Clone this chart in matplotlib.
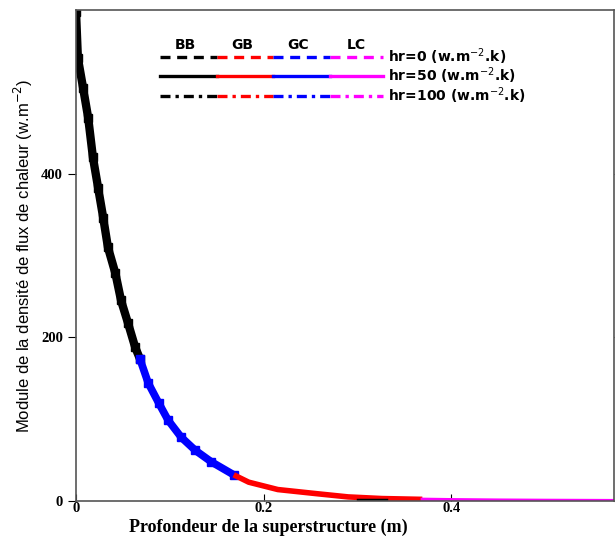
import matplotlib.pyplot as plt

# flux density, split by layer colour
bb_x = [0.000, 0.002, 0.0075, 0.013, 0.018, 0.0235, 0.029, 0.034, 0.042, 0.048, 0.0555, 0.063, 0.068]
bb_y = [598, 541, 505, 468, 420, 383, 346, 310, 278, 245, 217, 188, 174]
gc_x = [0.068, 0.077, 0.088, 0.098, 0.112, 0.127, 0.144, 0.168]
gc_y = [174, 144, 120, 99, 78, 62, 48, 32]
gb_x = [0.168, 0.184, 0.215, 0.256, 0.290, 0.326, 0.369]
gb_y = [32, 23, 14, 9, 5, 3, 2]
lc_x = [0.369, 0.40, 0.45, 0.50, 0.55, 0.573]
lc_y = [2, 1.5, 1.0, 0.7, 0.5, 0.4]
bb2_x = [0.300, 0.330]
bb2_y = [1.5, 1.5]

layers = ['BB', 'GB', 'GC', 'LC']
layer_colors = ['black', 'red', 'blue', 'magenta']
hr_labels = ['hr=0 (w.m$^{-2}$.k)', 'hr=50 (w.m$^{-2}$.k)', 'hr=100 (w.m$^{-2}$.k)']
hr_styles = [(0, (3, 2)), '-', (0, (3, 1.5, 1, 1.5))]

fig = plt.figure(figsize=(6.15, 5.39), dpi=100)
ax = fig.add_axes([0.1236, 0.0705, 0.8744, 0.911])

ax.plot(bb_x, bb_y, color='black', lw=6, marker='s', ms=6, solid_capstyle='butt')
ax.plot(gc_x, gc_y, color='blue', lw=5.5, marker='s', ms=5.5, solid_capstyle='butt')
ax.plot(gb_x, gb_y, color='red', lw=4, solid_capstyle='butt')
ax.plot(bb2_x, bb2_y, color='black', lw=2.5)
ax.plot(lc_x, lc_y, color='magenta', lw=2.5)

ax.set_xlim(0, 0.573)
ax.set_ylim(0, 600)
ax.set_xticks([0, 0.2, 0.4])
ax.set_xticklabels(['0', '0.2', '0.4'])
ax.set_yticks([0, 200, 400])
ax.tick_params(axis='y', direction='out', length=6, right=True)
ax.tick_params(axis='x', direction='in', length=5, pad=1)
for lab in ax.get_xticklabels() + ax.get_yticklabels():
    lab.set_fontfamily('Liberation Serif')
    lab.set_fontweight('bold')
    lab.set_fontsize(10.5)
for s in ax.spines.values():
    s.set_color('#555555')
    s.set_linewidth(1.2)

ax.set_xlabel('Profondeur de la superstructure (m)', family='Liberation Serif',
              fontweight='bold', fontsize=13, labelpad=0)
ax.xaxis.set_label_coords(0.357, -0.036, transform=ax.transAxes)
ax.xaxis.label.set_va('top')
ax.set_ylabel('Module de la densité de flux de chaleur (w.m$^{-2}$)',
              family=['Liberation Sans Narrow', 'Liberation Sans'], fontsize=12, labelpad=4)

# hand-built legend
seg_x = [0.156, 0.262, 0.366, 0.472, 0.571]
row_y = [0.904, 0.866, 0.825]
head_x = [0.203, 0.309, 0.413, 0.522]
for name, hx in zip(layers, head_x):
    ax.text(hx, 0.929, name, transform=ax.transAxes, ha='center', va='center',
            fontsize=10, fontweight='bold', family='DejaVu Sans')
for lbl, ls, ry in zip(hr_labels, hr_styles, row_y):
    for i, c in enumerate(layer_colors):
        ax.plot([seg_x[i], seg_x[i + 1]], [ry, ry], transform=ax.transAxes,
                color=c, lw=2.4, ls=ls, clip_on=False)
    ax.text(0.580, ry, lbl, transform=ax.transAxes, ha='left', va='center',
            fontsize=10, fontweight='bold', family='DejaVu Sans')

fig.savefig('out.png', dpi=100)
